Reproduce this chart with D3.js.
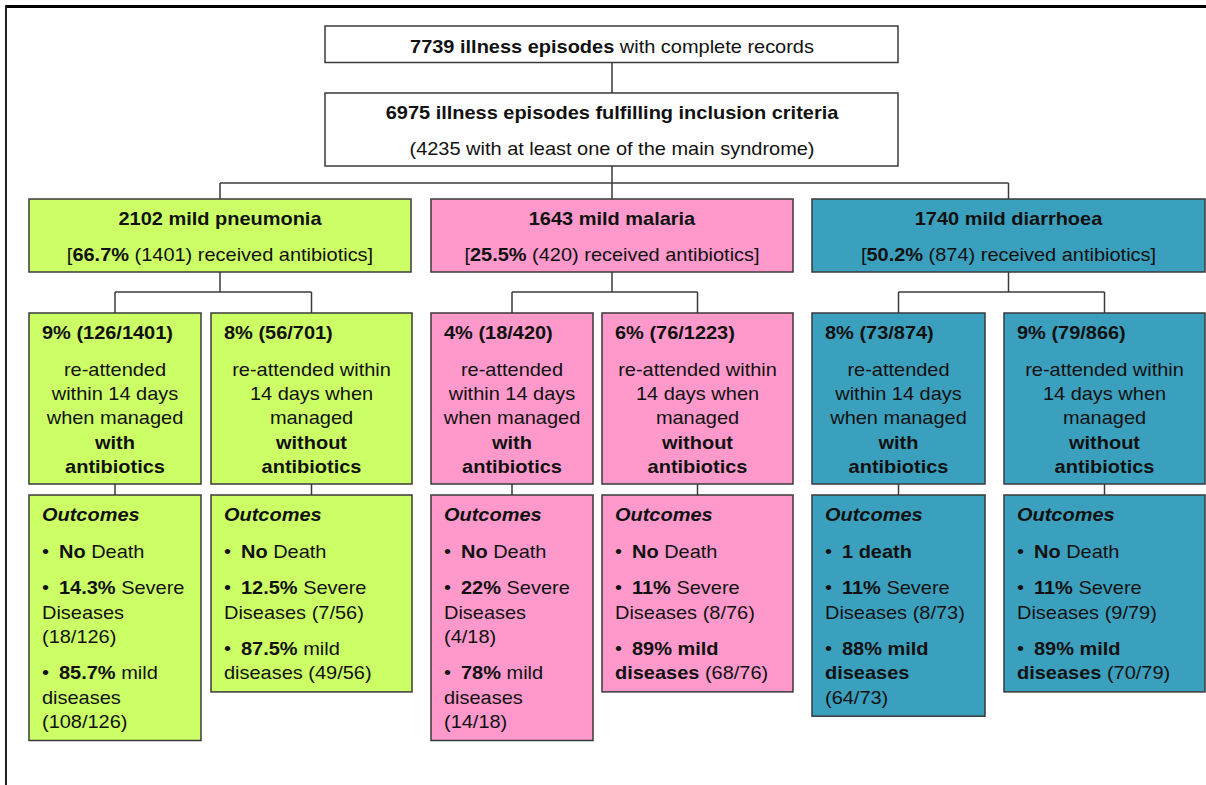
<!DOCTYPE html>
<html>
<head>
<meta charset="utf-8">
<script src="https://cdn.jsdelivr.net/npm/d3@7"></script>
<style>
  html, body { margin: 0; padding: 0; background: #fff; }
  svg { display: block; }
  text { font-family: "Liberation Sans", Arial, sans-serif; font-size: 18px; fill: #111; }
</style>
</head>
<body>
<svg id="chart" width="1206" height="785"></svg>
<script>
// ---------------- DATA ----------------
const totalEpisodes = 7739;
const includedEpisodes = 6975;
const withMainSyndrome = 4235;

const syndromes = ["mild pneumonia", "mild malaria", "mild diarrhoea"];
const syndromeCounts = [2102, 1643, 1740];
const abxPercent = ["66.7%", "25.5%", "50.2%"];
const abxCounts = [1401, 420, 874];

const reattendWithAbx = ["9% (126/1401)", "4% (18/420)", "8% (73/874)"];
const reattendWithoutAbx = ["8% (56/701)", "6% (76/1223)", "9% (79/866)"];

const withAbxLines = ["re-attended", "within 14 days", "when managed", "**with**", "**antibiotics**"];
const withoutAbxLines = ["re-attended within", "14 days when", "managed", "**without**", "**antibiotics**"];

// outcome paragraphs: each paragraph = list of lines (first line bulleted)
const outcomesWithAbx = [
  [["**No** Death"], ["**14.3%** Severe", "Diseases", "(18/126)"], ["**85.7%** mild", "diseases", "(108/126)"]],
  [["**No** Death"], ["**22%** Severe", "Diseases", "(4/18)"], ["**78%** mild", "diseases", "(14/18)"]],
  [["**1 death**"], ["**11%** Severe", "Diseases (8/73)"], ["**88% mild**", "**diseases**", "(64/73)"]]
];
const outcomesWithoutAbx = [
  [["**No** Death"], ["**12.5%** Severe", "Diseases (7/56)"], ["**87.5%** mild", "diseases (49/56)"]],
  [["**No** Death"], ["**11%** Severe", "Diseases (8/76)"], ["**89% mild**", "**diseases** (68/76)"]],
  [["**No** Death"], ["**11%** Severe", "Diseases (9/79)"], ["**89% mild**", "**diseases** (70/79)"]]
];

// ---------------- LAYOUT / STYLE ----------------
const colours = ["#ccff66", "#ff99cc", "#3aa0be"];
const columns = [[29, 411], [431, 793], [812, 1205]];           // level-2 boxes
const childBoxes = [                                            // [left child, right child]
  [[29, 201], [211, 412]],
  [[431, 593], [602, 793]],
  [[812, 985], [1004, 1205]]
];
const STROKE = "#3a3a3a";
const SX = 1.11;           // horizontal stretch of the source typography
const LINE = 24.3;

const svg = d3.select("#chart");

// frame
svg.append("line").attr("x1", 5).attr("x2", 1206).attr("y1", 6.5).attr("y2", 6.5)
  .attr("stroke", "#000").attr("stroke-width", 3);
svg.append("line").attr("x1", 6).attr("x2", 6).attr("y1", 5).attr("y2", 785)
  .attr("stroke", "#222").attr("stroke-width", 2);

const links = svg.append("g").attr("stroke", STROKE).attr("stroke-width", 1.5).attr("fill", "none");
const boxes = svg.append("g");
const texts = svg.append("g");

function parseRich(s) {
  const parts = s.split(/(\*\*[^*]+\*\*)/).filter(p => p.length);
  return parts.map(p => p.startsWith("**") ? { t: p.slice(2, -2), b: true } : { t: p, b: false });
}

function richText(x, y, str, anchor, opts = {}) {
  const t = texts.append("text")
    .attr("transform", `translate(${x},${y}) scale(${SX},1)`)
    .attr("text-anchor", anchor || "start")
    .attr("xml:space", "preserve");
  parseRich(str).forEach(seg => {
    const ts = t.append("tspan").text(seg.t);
    if (seg.b || opts.bold) ts.attr("font-weight", "bold");
    if (opts.italic) ts.attr("font-style", "italic");
  });
  return t;
}

function box(x0, x1, y0, y1, fill) {
  boxes.append("rect")
    .attr("x", x0).attr("y", y0).attr("width", x1 - x0).attr("height", y1 - y0)
    .attr("fill", fill).attr("stroke", STROKE).attr("stroke-width", 1.5);
}

function path(points) {
  links.append("path").attr("d", d3.line()(points));
}

const cx = 612;
// top boxes
box(325, 898, 26, 62.5, "#fff");
richText(cx, 52.5, `**${totalEpisodes} illness episodes** with complete records`, "middle");
box(325, 898, 93, 166, "#fff");
richText(cx, 119, `**${includedEpisodes} illness episodes fulfilling inclusion criteria**`, "middle");
richText(cx, 155, `(${withMainSyndrome} with at least one of the main syndrome)`, "middle");

path([[cx, 62.5], [cx, 93]]);
path([[cx, 166], [cx, 183]]);
const colCentres = columns.map(c => (c[0] + c[1]) / 2);
path([[colCentres[0], 183], [colCentres[2], 183]]);
colCentres.forEach(c => path([[c, 183], [c, 199]]));

const L2top = 199, L2bot = 272, CHtop = 313, CHbot = 484, OUTtop = 495;

syndromes.forEach((name, i) => {
  const [x0, x1] = columns[i];
  const c = colCentres[i];
  box(x0, x1, L2top, L2bot, colours[i]);
  richText(c, L2top + 26, `**${syndromeCounts[i]} ${name}**`, "middle");
  richText(c, L2top + 62, `[**${abxPercent[i]}** (${abxCounts[i]}) received antibiotics]`, "middle");

  const kids = childBoxes[i];
  const kc = kids.map(k => (k[0] + k[1]) / 2);
  path([[c, L2bot], [c, 292]]);
  path([[kc[0], 292], [kc[1], 292]]);
  kc.forEach(k => path([[k, 292], [k, CHtop]]));

  [[reattendWithAbx[i], withAbxLines, outcomesWithAbx[i]],
   [reattendWithoutAbx[i], withoutAbxLines, outcomesWithoutAbx[i]]].forEach(([head, lines, outs], j) => {
    const [a0, a1] = kids[j];
    const mid = kc[j];
    box(a0, a1, CHtop, CHbot, colours[i]);
    richText(a0 + 13, CHtop + 26, `**${head}**`, "start");
    lines.forEach((ln, k) => richText(mid, CHtop + 62.7 + k * LINE, ln, "middle"));

    path([[mid, CHbot], [mid, OUTtop]]);
    // outcomes box
    let y = OUTtop + 26;
    const items = [];
    items.push({ y, s: "Outcomes", head: true });
    outs.forEach(par => {
      y += 36.6;
      par.forEach((ln, k) => {
        if (k > 0) y += LINE;
        items.push({ y, s: ln, bullet: k === 0 });
      });
    });
    const bottom = y + 12.5;
    box(a0, a1, OUTtop, bottom, colours[i]);
    items.forEach(it => {
      if (it.head) {
        richText(a0 + 13, it.y, it.s, "start", { bold: true, italic: true });
      } else if (it.bullet) {
        richText(a0 + 13, it.y, "•", "start");
        richText(a0 + 30, it.y, it.s, "start");
      } else {
        richText(a0 + 13, it.y, it.s, "start");
      }
    });
  });
});
</script>
</body>
</html>
